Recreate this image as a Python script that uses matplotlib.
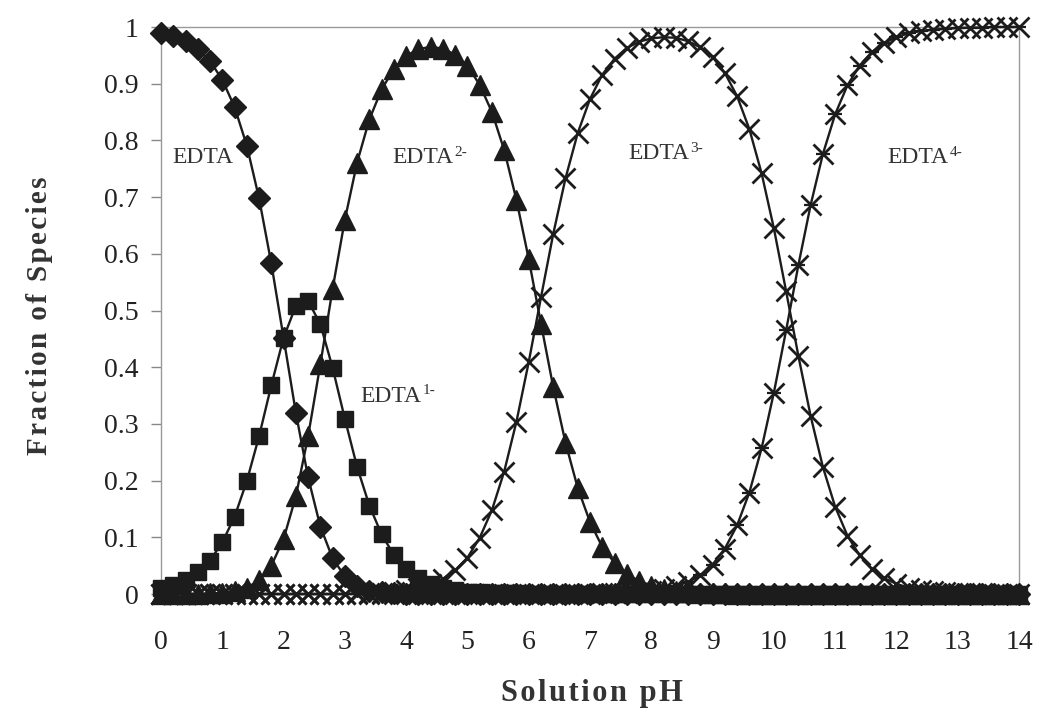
import numpy as np
import matplotlib
matplotlib.use("Agg")
import matplotlib.pyplot as plt

plt.rcParams['font.family'] = ['Liberation Serif', 'DejaVu Serif']

# solution pH, one point every 0.2
ph = [0.0, 0.2, 0.4, 0.6, 0.8, 1.0, 1.2, 1.4, 1.6, 1.8,
      2.0, 2.2, 2.4, 2.6, 2.8, 3.0, 3.2, 3.4, 3.6, 3.8,
      4.0, 4.2, 4.4, 4.6, 4.8, 5.0, 5.2, 5.4, 5.6, 5.8,
      6.0, 6.2, 6.4, 6.6, 6.8, 7.0, 7.2, 7.4, 7.6, 7.8,
      8.0, 8.2, 8.4, 8.6, 8.8, 9.0, 9.2, 9.4, 9.6, 9.8,
      10.0, 10.2, 10.4, 10.6, 10.8, 11.0, 11.2, 11.4, 11.6, 11.8,
      12.0, 12.2, 12.4, 12.6, 12.8, 13.0, 13.2, 13.4, 13.6, 13.8,
      14.0]

edta = [0.99, 0.984, 0.975, 0.961, 0.94, 0.907, 0.859, 0.791, 0.698, 0.583,
        0.452, 0.32, 0.206, 0.119, 0.063, 0.031, 0.014, 0.006, 0.003, 0.001,
        0, 0, 0, 0, 0, 0, 0, 0, 0, 0,
        0, 0, 0, 0, 0, 0, 0, 0, 0, 0,
        0, 0, 0, 0, 0, 0, 0, 0, 0, 0,
        0, 0, 0, 0, 0, 0, 0, 0, 0, 0,
        0, 0, 0, 0, 0, 0, 0, 0, 0, 0,
        0]

edta1 = [0.01, 0.016, 0.025, 0.038, 0.059, 0.091, 0.136, 0.199, 0.278, 0.368,
         0.452, 0.508, 0.517, 0.476, 0.399, 0.309, 0.224, 0.156, 0.105, 0.069,
         0.044, 0.028, 0.018, 0.011, 0.007, 0.004, 0.003, 0.002, 0.001, 0.001,
         0, 0, 0, 0, 0, 0, 0, 0, 0, 0,
         0, 0, 0, 0, 0, 0, 0, 0, 0, 0,
         0, 0, 0, 0, 0, 0, 0, 0, 0, 0,
         0, 0, 0, 0, 0, 0, 0, 0, 0, 0,
         0]

edta2 = [0, 0, 0, 0, 0.001, 0.002, 0.005, 0.011, 0.024, 0.05,
         0.097, 0.172, 0.278, 0.405, 0.538, 0.66, 0.761, 0.837, 0.89, 0.926,
         0.949, 0.961, 0.965, 0.962, 0.951, 0.932, 0.898, 0.85, 0.783, 0.695,
         0.591, 0.477, 0.365, 0.267, 0.187, 0.127, 0.083, 0.055, 0.035, 0.023,
         0.015, 0.009, 0.005, 0.004, 0.002, 0.001, 0.001, 0, 0, 0,
         0, 0, 0, 0, 0, 0, 0, 0, 0, 0,
         0, 0, 0, 0, 0, 0, 0, 0, 0, 0,
         0]

edta3 = [0, 0, 0, 0, 0, 0, 0, 0, 0, 0,
         0, 0, 0, 0, 0, 0, 0.001, 0.001, 0.002, 0.004,
         0.007, 0.011, 0.017, 0.027, 0.042, 0.064, 0.099, 0.148, 0.216, 0.304,
         0.409, 0.523, 0.635, 0.733, 0.813, 0.873, 0.916, 0.944, 0.963, 0.974,
         0.98, 0.982, 0.981, 0.975, 0.964, 0.947, 0.919, 0.878, 0.82, 0.742,
         0.645, 0.534, 0.42, 0.314, 0.224, 0.154, 0.103, 0.068, 0.044, 0.028,
         0.018, 0.011, 0.007, 0.005, 0.003, 0.002, 0.001, 0.001, 0, 0,
         0]

edta4 = [0, 0, 0, 0, 0, 0, 0, 0, 0, 0,
         0, 0, 0, 0, 0, 0, 0, 0, 0, 0,
         0, 0, 0, 0, 0, 0, 0, 0, 0, 0,
         0, 0, 0, 0, 0, 0, 0.001, 0.001, 0.002, 0.003,
         0.005, 0.009, 0.014, 0.021, 0.033, 0.052, 0.08, 0.121, 0.179, 0.257,
         0.355, 0.465, 0.58, 0.686, 0.776, 0.846, 0.897, 0.932, 0.956, 0.972,
         0.982, 0.989, 0.993, 0.995, 0.997, 0.998, 0.999, 0.999, 1, 1,
         1]

# label text, superscript charge, (pH, fraction) of the baseline start
labels = [('EDTA', '', 0.18, 0.760),
          ('EDTA', '1-', 3.25, 0.339),
          ('EDTA', '2-', 3.77, 0.760),
          ('EDTA', '3-', 7.62, 0.767),
          ('EDTA', '4-', 11.86, 0.760)]

ink = '#1c1c1c'
fig = plt.figure(figsize=(10.38, 7.26), dpi=100)
ax = fig.add_axes([0.1551, 0.1818, 0.8266, 0.781])

styles = [(edta, 'D', 11, 1.0),
          (edta1, 's', 12, 1.0),
          (edta2, '^', 14.5, 1.0),
          (edta3, 'x', 15, 2.0),
          (edta4, 'x', 15, 2.0)]
for vals, mk, ms, mew in styles:
    ax.plot(ph, vals, color=ink, lw=1.7, marker=mk, ms=ms, mew=mew,
            mfc=ink, mec=ink, clip_on=False, zorder=3)
# star marker for EDTA4- gets a cross bar
ax.plot(ph, edta4, ls='none', marker='_', ms=10, mew=1.6, color=ink,
        clip_on=False, zorder=3)

ax.set_xlim(0, 14)
ax.set_ylim(0, 1)
ax.set_xticks(range(0, 15))
ax.set_yticks(np.arange(0, 1.01, 0.1))
ax.set_yticklabels(['0', '0.1', '0.2', '0.3', '0.4', '0.5', '0.6', '0.7',
                    '0.8', '0.9', '1'])
ax.tick_params(axis='x', length=0, pad=26, labelsize=20, colors='#222222')
ax.tick_params(axis='y', length=7, width=1, pad=9, labelsize=20,
               colors='#888888', labelcolor='#222222', direction='out')
for side in ['left', 'right', 'top', 'bottom']:
    ax.spines[side].set_color('#999999')
    ax.spines[side].set_linewidth(1)

for name, charge, x, y in labels:
    t = ax.text(x, y, name, fontsize=17, color='#333333', ha='left',
                va='baseline', zorder=4)
    if charge:
        ax.annotate(charge, xy=(1, 1), xycoords=t, xytext=(1, 1),
                    textcoords='offset points', fontsize=11,
                    color='#333333', ha='left', va='top', zorder=4)

hair = '\u200a'
fig.text(0.038, 0.565, hair.join('Fraction of Species'), rotation=90,
         fontsize=21, fontweight='bold', color='#333333',
         ha='center', va='center')
fig.text(0.570, 0.035, hair.join('Solution pH'), fontsize=22,
         fontweight='bold', color='#333333', ha='center', va='baseline')

fig.savefig('out.png', dpi=100)
